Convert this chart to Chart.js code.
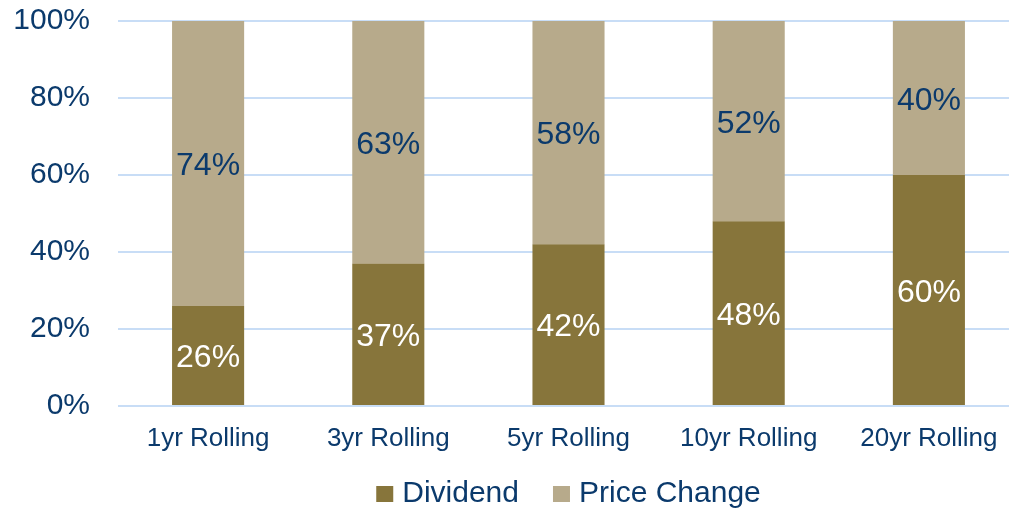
<!DOCTYPE html>
<html><head><meta charset="utf-8">
<script src="https://cdn.jsdelivr.net/npm/chart.js@4"></script>
<style>
html,body{margin:0;padding:0;background:#fff;overflow:hidden;}
#wrap{width:1009px;height:509px;overflow:hidden;position:relative;}
#box{width:1019px;height:509px;position:absolute;left:0;top:0;}
</style></head>
<body>
<div id="wrap"><div id="box"><canvas id="c"></canvas></div></div>
<script>
const categories = ["1yr Rolling","3yr Rolling","5yr Rolling","10yr Rolling","20yr Rolling"];
const dividend = [26,37,42,48,60];
const priceChange = [74,63,58,52,40];
const yTicks = [0,20,40,60,80,100];

const NAVY = '#0b3a6c';
const FONT = "'Liberation Sans', Arial, sans-serif";

const labelPlugin = {
  id: 'segLabels',
  afterDatasetsDraw(chart) {
    const ctx = chart.ctx;
    ctx.save();
    ctx.font = '32px ' + FONT;
    ctx.textAlign = 'center';
    ctx.textBaseline = 'alphabetic';
    chart.data.datasets.forEach((ds, i) => {
      const meta = chart.getDatasetMeta(i);
      meta.data.forEach((el, j) => {
        ctx.fillStyle = ds.labelColor;
        ctx.fillText(ds.data[j] + '%', el.x, (el.y + el.base) / 2 + 11.5);
      });
    });
    ctx.restore();
  }
};

const legendPlugin = {
  id: 'customLegend',
  afterDraw(chart) {
    const ctx = chart.ctx;
    const ca = chart.chartArea;
    ctx.save();
    ctx.font = '30px ' + FONT;
    ctx.textBaseline = 'alphabetic';
    const box = 17, gapText = 9, gapItem = 34;
    const items = chart.data.datasets.map(ds => ({text: ds.label, color: ds.backgroundColor, w: ctx.measureText(ds.label).width}));
    let total = 0;
    items.forEach((it, k) => { total += box + gapText + it.w + (k < items.length - 1 ? gapItem : 0); });
    let x = (ca.left + ca.right) / 2 - total / 2;
    const baseY = 502;
    items.forEach(it => {
      ctx.fillStyle = it.color;
      ctx.fillRect(x, baseY - 16, box, 16);
      x += box + gapText;
      ctx.fillStyle = NAVY;
      ctx.fillText(it.text, x, baseY);
      x += it.w + gapItem;
    });
    ctx.restore();
  }
};

new Chart(document.getElementById('c'), {
  type: 'bar',
  data: {
    labels: categories,
    datasets: [
      {label: 'Dividend', data: dividend, backgroundColor: '#87753b', labelColor: '#ffffff',
       barPercentage: 0.4, categoryPercentage: 1.0},
      {label: 'Price Change', data: priceChange, backgroundColor: '#b7aa8b', labelColor: NAVY,
       barPercentage: 0.4, categoryPercentage: 1.0}
    ]
  },
  options: {
    responsive: true,
    maintainAspectRatio: false,
    animation: false,
    layout: {padding: {top: 21, left: 0, right: 0, bottom: 50}},
    plugins: {
      tooltip: {enabled: false},
      legend: {display: false}
    },
    scales: {
      x: {
        stacked: true,
        grid: {display: false, drawTicks: false},
        border: {display: false},
        ticks: {font: {size: 26, family: FONT}, color: NAVY, padding: 17, maxRotation: 0},
        afterFit(s) { s.height = 53; s.paddingLeft = 0; s.paddingRight = 0; }
      },
      y: {
        stacked: true,
        min: 0, max: 100,
        afterBuildTicks(s) { s.ticks = yTicks.map(v => ({value: v})); },
        grid: {color: '#c8ddf6', lineWidth: 2, drawTicks: false},
        border: {display: false},
        ticks: {font: {size: 30, family: FONT}, color: NAVY, padding: 28,
                callback: v => v + '%'},
        afterFit(s) { s.width = 118; s.paddingTop = 0; s.paddingBottom = 0; }
      }
    }
  },
  plugins: [labelPlugin, legendPlugin]
});
</script>
</body></html>
